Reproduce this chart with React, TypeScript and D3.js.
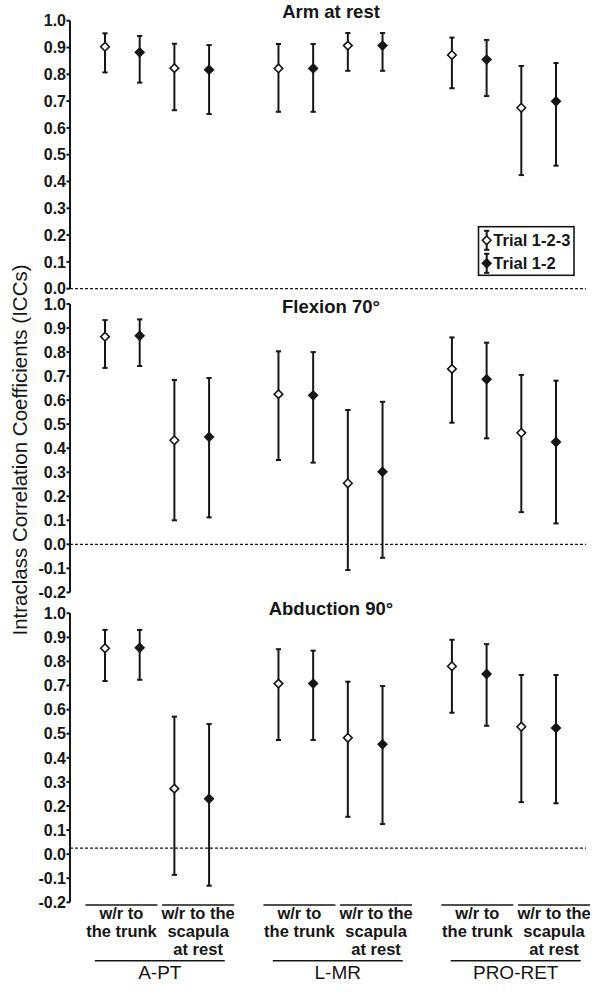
import React from 'react';
import * as d3 from 'd3';

// ---------- data ----------
const groups = ['A-PT', 'L-MR', 'PRO-RET'];
const referenceLabels = [
  ['w/r to', 'the trunk'],
  ['w/r to the', 'scapula', 'at rest'],
];
const trials = ['Trial 1-2-3', 'Trial 1-2'];
const panelTitles = ['Arm at rest', 'Flexion 70°', 'Abduction 90°'];
const panelMin = [0, -0.2, -0.2];
const panelRefLine = [0, 0, 0.025];
const tickValuesTop = [0, 0.1, 0.2, 0.3, 0.4, 0.5, 0.6, 0.7, 0.8, 0.9, 1.0];
const tickValuesLower = [-0.2, -0.1, 0, 0.1, 0.2, 0.3, 0.4, 0.5, 0.6, 0.7, 0.8, 0.9, 1.0];

// order: A-PT (trunk: T123, T12; scapula: T123, T12), L-MR (...), PRO-RET (...)
const armRestICC = [0.903, 0.882, 0.823, 0.817, 0.822, 0.822, 0.907, 0.907, 0.872, 0.855, 0.675, 0.699];
const armRestLower = [0.807, 0.769, 0.666, 0.652, 0.66, 0.66, 0.813, 0.813, 0.748, 0.719, 0.424, 0.459];
const armRestUpper = [0.953, 0.943, 0.914, 0.909, 0.913, 0.913, 0.954, 0.954, 0.937, 0.928, 0.831, 0.842];

const flexionICC = [0.864, 0.868, 0.433, 0.447, 0.625, 0.62, 0.254, 0.302, 0.73, 0.687, 0.464, 0.426];
const flexionLower = [0.734, 0.742, 0.1, 0.112, 0.351, 0.34, -0.107, -0.056, 0.506, 0.441, 0.134, 0.087];
const flexionUpper = [0.933, 0.936, 0.684, 0.692, 0.803, 0.8, 0.559, 0.593, 0.861, 0.839, 0.705, 0.681];

const abductionICC = [0.855, 0.857, 0.272, 0.23, 0.708, 0.708, 0.483, 0.456, 0.78, 0.748, 0.529, 0.524];
const abductionLower = [0.719, 0.724, -0.086, -0.131, 0.474, 0.474, 0.155, 0.125, 0.587, 0.533, 0.216, 0.211];
const abductionUpper = [0.931, 0.931, 0.571, 0.54, 0.851, 0.845, 0.716, 0.698, 0.89, 0.872, 0.744, 0.744];

const panelICC = [armRestICC, flexionICC, abductionICC];
const panelLower = [armRestLower, flexionLower, abductionLower];
const panelUpper = [armRestUpper, flexionUpper, abductionUpper];

// ---------- layout ----------
const W = 600;
const H = 997;
const INK = '#161616';
const FONT = '"Liberation Sans", Arial, Helvetica, sans-serif';
const AXIS_X = 70;
const panelPx = [
  { top: 20.7, bottom: 288.7 },
  { top: 304, bottom: 592.4 },
  { top: 613.3, bottom: 902.3 },
];

const x = d3.scaleLinear().domain([0, 13]).range([105, 556]);
const slotOf = (i: number) => {
  const k = Math.floor(i / 4);
  const j = Math.floor((i % 4) / 2);
  const t = i % 2;
  return k * 5 + j * 2 + t;
};
const labelShift = (k: number, j: number) => -0.9 + 4.5 * k + 7.3 * j;

const diamond = (cx: number, cy: number, r = 4.3) =>
  `M${cx},${cy - r}L${cx + r},${cy}L${cx},${cy + r}L${cx - r},${cy}Z`;

function ErrorBar({ cx, yMean, yLo, yHi, filled }: any) {
  return (
    <g>
      <line x1={cx} x2={cx} y1={yHi} y2={yLo} stroke={INK} strokeWidth={2} />
      <line x1={cx - 2.6} x2={cx + 2.6} y1={yHi} y2={yHi} stroke={INK} strokeWidth={2} />
      <line x1={cx - 2.6} x2={cx + 2.6} y1={yLo} y2={yLo} stroke={INK} strokeWidth={2} />
      <path d={diamond(cx, yMean)} fill={filled ? INK : '#fff'} stroke={INK} strokeWidth={1.6} />
    </g>
  );
}

function Panel({ p }: { p: number }) {
  const y = d3.scaleLinear().domain([panelMin[p], 1]).range([panelPx[p].bottom, panelPx[p].top]);
  const ticks = p === 0 ? tickValuesTop : tickValuesLower;
  const icc = panelICC[p];
  const lo = panelLower[p];
  const hi = panelUpper[p];
  return (
    <g>
      <line x1={AXIS_X} x2={AXIS_X} y1={y(panelMin[p])} y2={y(1)} stroke={INK} strokeWidth={2} />
      {ticks.map((v) => (
        <g key={v}>
          <line x1={AXIS_X - 3.5} x2={AXIS_X} y1={y(v)} y2={y(v)} stroke={INK} strokeWidth={2} />
          <text x={AXIS_X - 4} y={y(v)} dy="0.36em" textAnchor="end" fontFamily={FONT}
            fontWeight="bold" fontSize={16} fill={INK}>
            {v.toFixed(1)}
          </text>
        </g>
      ))}
      <line x1={AXIS_X} x2={586} y1={y(panelRefLine[p])} y2={y(panelRefLine[p])}
        stroke={INK} strokeWidth={1.3} strokeDasharray="3,2" />
      <text x={331} y={[18, 313, 615][p]} textAnchor="middle" fontFamily={FONT}
        fontWeight="bold" fontSize={18.5} fill={INK}>
        {panelTitles[p]}
      </text>
      {icc.map((v, i) => (
        <ErrorBar key={i} cx={x(slotOf(i))} yMean={y(v)} yLo={y(lo[i])} yHi={y(hi[i])} filled={i % 2 === 1} />
      ))}
    </g>
  );
}

function Legend() {
  const bx = 478.5, by = 226.7, bw = 95.5, bh = 48.6;
  const rows = [240.3, 263.3];
  return (
    <g>
      <rect x={bx} y={by} width={bw} height={bh} fill="#fff" stroke={INK} strokeWidth={1.6} />
      {trials.map((t, i) => (
        <g key={t}>
          <ErrorBar cx={486.7} yMean={rows[i]} yLo={rows[i] + 9.5} yHi={rows[i] - 9.5} filled={i === 1} />
          <text x={493.3} y={rows[i] + 5.8} fontFamily={FONT} fontWeight="bold" fontSize={16.5} fill={INK}>
            {t}
          </text>
        </g>
      ))}
    </g>
  );
}

function XLabels() {
  return (
    <g>
      {groups.map((g, k) => {
        const gc = x(k * 5 + 1.5) + labelShift(k, 0.5);
        return (
          <g key={g}>
            {referenceLabels.map((lines, j) => {
              const c = x(k * 5 + j * 2 + 0.5) + labelShift(k, j);
              return (
                <g key={j}>
                  <line x1={c - 36} x2={c + 36} y1={905} y2={905} stroke={INK} strokeWidth={1.5} />
                  {lines.map((ln, li) => (
                    <text key={li} x={c} y={918.6 + li * 18.4} textAnchor="middle" fontFamily={FONT}
                      fontWeight="bold" fontSize={16.5} fill={INK}>
                      {ln}
                    </text>
                  ))}
                </g>
              );
            })}
            <line x1={gc - 65} x2={gc + 65} y1={960.7} y2={960.7} stroke={INK} strokeWidth={1.5} />
            <text x={gc} y={978.5} textAnchor="middle" fontFamily={FONT} fontSize={19} fill={INK}>
              {g}
            </text>
          </g>
        );
      })}
    </g>
  );
}

export default function App() {
  return (
    <svg width={W} height={H} viewBox={`0 0 ${W} ${H}`}
      style={{ position: 'absolute', left: 0, top: 0, background: '#fff' }}>
      <rect width={W} height={H} fill="#fff" />
      {[0, 1, 2].map((p) => (
        <Panel key={p} p={p} />
      ))}
      <Legend />
      <XLabels />
      <text transform="translate(27,450) rotate(-90)" textAnchor="middle" fontFamily={FONT}
        fontSize={20.5} fill={INK}>
        Intraclass Correlation Coefficients (ICCs)
      </text>
    </svg>
  );
}
